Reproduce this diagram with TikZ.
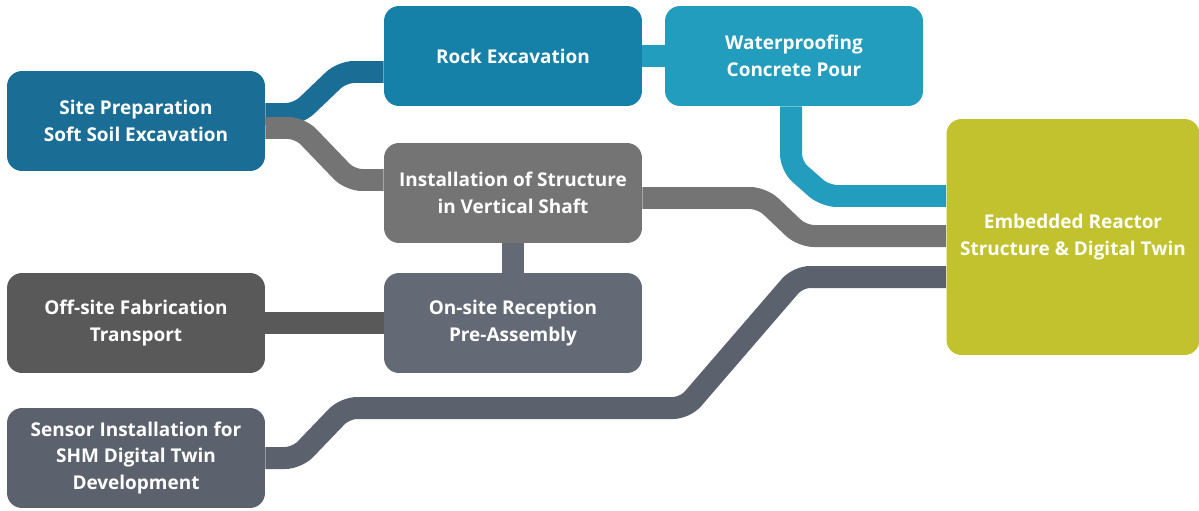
\documentclass[tikz,border=0pt]{standalone}
\usepackage{fontspec}
\setmainfont{Open Sans}
\usetikzlibrary{backgrounds}

\definecolor{sitecol}{HTML}{1A6E96}
\definecolor{rockcol}{HTML}{1580A8}
\definecolor{watercol}{HTML}{229DBE}
\definecolor{shaftcol}{HTML}{747474}
\definecolor{offcol}{HTML}{595959}
\definecolor{oncol}{HTML}{646A75}
\definecolor{sensorcol}{HTML}{5C626D}
\definecolor{reactorcol}{HTML}{C2C22F}

\begin{document}
\begin{tikzpicture}[x=0.02cm, y=-0.02cm,
    stage/.style ={rounded corners=0.3cm, inner sep=0pt, align=center,
      minimum width=5.16cm, minimum height=2cm, text=white,
      font=\fontsize{10.8}{15.2}\selectfont\bfseries},
    link/.style ={line width=0.44cm, rounded corners=0.24cm}]
   \useasboundingbox (0,0) rectangle (1199,510);
   \node[stage, fill=sitecol] (site) at (136,121) {Site Preparation\\Soft Soil Excavation};
   \node[stage, fill=rockcol] (rock) at (513,56) {Rock Excavation};
   \node[stage, fill=watercol] (water) at (794,56) {Waterproofing\\Concrete Pour};
   \node[stage, fill=shaftcol] (shaft) at (513,193) {Installation of Structure\\in Vertical Shaft};
   \node[stage, fill=offcol] (offsite) at (136,323) {Off-site Fabrication\\Transport};
   \node[stage, fill=oncol] (onsite) at (513,323) {On-site Reception\\Pre-Assembly};
   \node[stage, fill=sensorcol] (sensor) at (136,458) {Sensor Installation for\\SHM Digital Twin\\Development};
   \node[stage, fill=reactorcol, minimum width=5.06cm, minimum height=4.72cm] (reactor) at (1073,237) {Embedded Reactor\\Structure \& Digital Twin};
   \begin{scope}[on background layer]
   \draw[link, sitecol] (site.east |- 0,114) -- (298,114) -- (342,72) -- (rock.west |- 0,72);
   \draw[link, shaftcol] (site.east |- 0,128) -- (300,128) -- (350,180) -- (shaft.west |- 0,180);
   \draw[link, watercol] (rock.east |- 0,56) -- (water.west |- 0,56);
   \draw[link, watercol] (water.south -| 791,0) -- (791,166) -- (825,196) -- (reactor.west |- 0,196);
   \draw[link, shaftcol] (shaft.east |- 0,198) -- (762,198) -- (802,236) -- (reactor.west |- 0,236);
   \draw[link, oncol] (shaft.south) -- (onsite.north);
   \draw[link, offcol] (offsite.east) -- (onsite.west);
   \draw[link, sensorcol] (sensor.east |- 0,458) -- (297,458) -- (345,408) -- (685,408) -- (798,277) -- (reactor.west |- 0,277);
   \end{scope}
 \end{tikzpicture}
\end{document}
